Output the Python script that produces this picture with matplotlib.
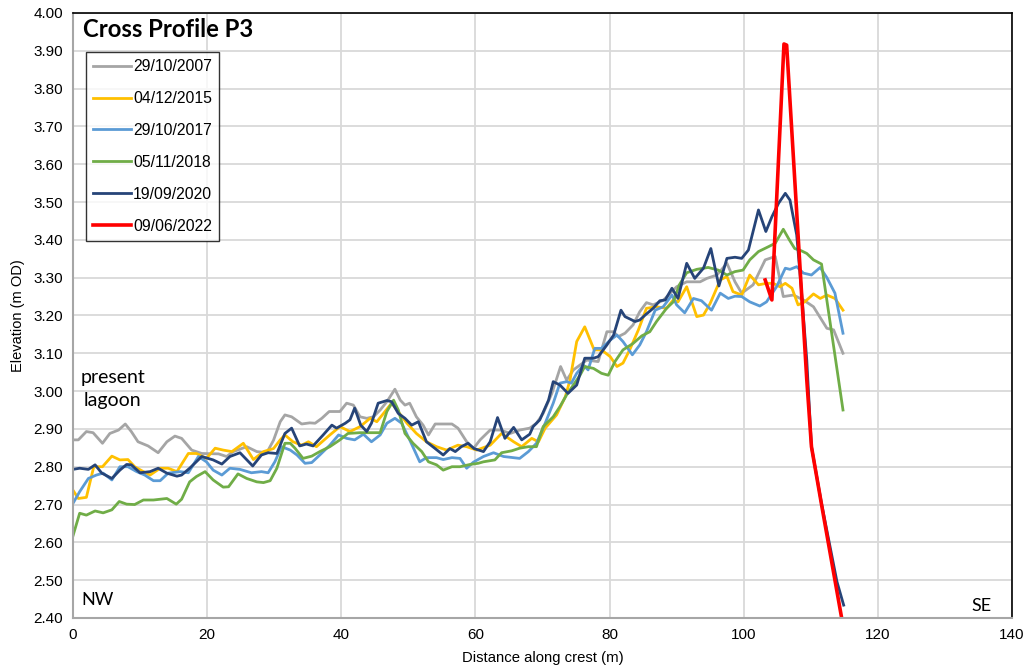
"""
Cross Profile P3 - beach crest elevation surveys.
"""

import matplotlib
matplotlib.use('Agg')
import matplotlib.pyplot as plt
from matplotlib.ticker import MultipleLocator, FormatStrFormatter

# survey dates / legend labels
labels = ['29/10/2007', '04/12/2015', '29/10/2017', '05/11/2018', '19/09/2020', '09/06/2022']
colors = ['#A5A5A5', '#FFC000', '#5B9BD5', '#70AD47', '#264478', '#FF0000']

# 29/10/2007
x_2007 = [0, 0.8, 2.0, 3.0, 4.4, 5.5, 6.8, 7.8, 8.7, 9.7,
          11.2, 12.7, 14.0, 15.2, 16.2, 17.7, 19.2, 21.7, 22.9, 23.9,
          25.9, 27.4, 28.9, 29.9, 30.9, 31.6, 32.6, 34.1, 35.3, 36.1,
          37.1, 38.2, 39.8, 40.8, 41.8, 42.8, 43.8, 44.8, 45.8, 46.8,
          48.0, 48.8, 49.5, 50.2, 51.2, 52.2, 53.0, 54.0, 56.5, 57.4,
          58.7, 59.7, 60.7, 62.2, 63.7, 65.2, 66.6, 68.1, 69.1, 70.1,
          71.4, 72.7, 73.6, 74.6, 76.6, 78.3, 79.6, 80.6, 81.3, 82.3,
          83.5, 84.5, 85.5, 86.5, 88.0, 90.0, 91.5, 93.5, 94.5, 96.0,
          97.5, 98.7, 99.7, 101.4, 103.2, 104.7, 105.9, 107.4, 108.9, 110.4,
          112.4, 113.4, 114.8]
y_2007 = [2.871, 2.871, 2.893, 2.890, 2.862, 2.888, 2.897, 2.913, 2.893, 2.866,
          2.855, 2.837, 2.866, 2.881, 2.875, 2.844, 2.835, 2.834, 2.827, 2.840,
          2.853, 2.840, 2.837, 2.870, 2.919, 2.937, 2.932, 2.913, 2.916, 2.915,
          2.928, 2.946, 2.946, 2.968, 2.963, 2.932, 2.928, 2.932, 2.950, 2.972,
          3.005, 2.976, 2.963, 2.968, 2.932, 2.910, 2.884, 2.913, 2.913, 2.902,
          2.866, 2.848, 2.871, 2.897, 2.897, 2.888, 2.897, 2.902, 2.915, 2.941,
          2.994, 3.065, 3.029, 3.056, 3.082, 3.078, 3.157, 3.157, 3.144, 3.153,
          3.175, 3.210, 3.234, 3.228, 3.240, 3.276, 3.289, 3.289, 3.298, 3.307,
          3.338, 3.289, 3.259, 3.281, 3.347, 3.356, 3.250, 3.254, 3.241, 3.223,
          3.166, 3.162, 3.100]

# 04/12/2015
x_2015 = [0, 0.8, 2.0, 3.1, 4.4, 5.8, 7.0, 8.2, 9.2, 10.5,
          11.5, 13.0, 14.2, 15.5, 17.2, 18.4, 19.9, 21.2, 22.4, 23.7,
          25.4, 26.9, 28.4, 29.9, 30.9, 31.6, 32.8, 34.1, 35.1, 36.3,
          38.3, 39.8, 41.3, 42.8, 44.3, 45.3, 46.3, 47.5, 48.3, 49.8,
          51.2, 52.7, 54.2, 55.7, 57.4, 58.7, 60.2, 62.2, 63.9, 65.7,
          66.9, 68.4, 69.4, 70.4, 72.1, 73.4, 74.1, 75.1, 76.3, 77.7,
          78.8, 80.1, 81.1, 82.0, 83.0, 84.3, 85.5, 87.0, 88.5, 89.5,
          90.2, 91.5, 93.0, 94.0, 95.0, 96.5, 97.5, 98.4, 99.7, 100.9,
          102.2, 103.4, 104.4, 105.4, 106.2, 107.2, 108.1, 109.1, 110.4, 111.4,
          112.4, 113.6, 114.8]
y_2015 = [2.738, 2.716, 2.719, 2.800, 2.800, 2.828, 2.818, 2.819, 2.800, 2.787,
          2.778, 2.796, 2.796, 2.787, 2.835, 2.835, 2.822, 2.849, 2.844, 2.840,
          2.862, 2.819, 2.840, 2.848, 2.871, 2.884, 2.866, 2.857, 2.866, 2.853,
          2.884, 2.906, 2.893, 2.906, 2.928, 2.919, 2.941, 2.968, 2.950, 2.915,
          2.888, 2.866, 2.853, 2.844, 2.857, 2.853, 2.844, 2.857, 2.888, 2.866,
          2.853, 2.875, 2.866, 2.902, 2.937, 2.985, 3.029, 3.131, 3.170, 3.109,
          3.109, 3.091, 3.065, 3.074, 3.109, 3.162, 3.219, 3.223, 3.219, 3.241,
          3.236, 3.276, 3.197, 3.201, 3.232, 3.294, 3.303, 3.263, 3.254, 3.307,
          3.281, 3.285, 3.285, 3.276, 3.285, 3.272, 3.228, 3.236, 3.257, 3.245,
          3.254, 3.245, 3.214]

# 29/10/2017
x_2017 = [0, 1.0, 2.3, 3.5, 4.5, 5.8, 7.0, 8.2, 9.5, 10.7,
          12.0, 13.0, 14.2, 16.0, 17.2, 18.7, 19.9, 20.9, 22.2, 23.4,
          24.9, 26.6, 28.1, 29.1, 30.1, 31.1, 32.4, 33.4, 34.6, 35.6,
          36.8, 38.3, 39.6, 40.8, 42.0, 43.3, 44.5, 45.8, 46.8, 48.0,
          49.0, 50.2, 51.7, 52.7, 54.2, 55.2, 56.5, 57.7, 58.7, 59.7,
          61.2, 62.7, 64.2, 66.6, 67.9, 69.1, 70.4, 71.6, 72.6, 73.6,
          74.3, 75.1, 76.1, 76.8, 77.8, 78.8, 80.1, 81.1, 82.0, 83.4,
          84.5, 85.5, 86.8, 88.0, 89.3, 90.0, 91.2, 92.5, 93.7, 95.2,
          96.5, 97.7, 98.7, 99.7, 100.9, 102.4, 103.4, 104.9, 106.2, 106.9,
          107.9, 108.9, 110.1, 111.4, 112.4, 113.6, 114.8]
y_2017 = [2.703, 2.734, 2.769, 2.778, 2.783, 2.765, 2.800, 2.800, 2.787, 2.778,
          2.763, 2.763, 2.783, 2.787, 2.784, 2.827, 2.813, 2.791, 2.778, 2.796,
          2.793, 2.784, 2.787, 2.784, 2.813, 2.853, 2.844, 2.831, 2.809, 2.811,
          2.831, 2.857, 2.884, 2.875, 2.871, 2.886, 2.866, 2.884, 2.915, 2.928,
          2.915, 2.871, 2.813, 2.824, 2.824, 2.819, 2.824, 2.822, 2.796, 2.812,
          2.827, 2.837, 2.827, 2.822, 2.840, 2.862, 2.915, 2.968, 3.021, 3.025,
          3.021, 3.047, 3.069, 3.056, 3.113, 3.113, 3.135, 3.148, 3.131, 3.096,
          3.122, 3.157, 3.214, 3.223, 3.254, 3.228, 3.207, 3.245, 3.239, 3.214,
          3.259, 3.245, 3.251, 3.250, 3.236, 3.225, 3.236, 3.276, 3.325, 3.322,
          3.329, 3.312, 3.307, 3.327, 3.300, 3.259, 3.153]

# 05/11/2018
x_2018 = [0, 1.0, 2.0, 3.3, 4.5, 5.8, 6.9, 8.0, 9.2, 10.5,
          12.0, 13.0, 14.0, 15.4, 16.2, 17.4, 18.4, 19.7, 20.9, 22.4,
          23.2, 24.6, 25.9, 27.4, 28.4, 29.4, 30.4, 31.6, 32.4, 33.1,
          34.3, 35.6, 36.8, 38.3, 39.8, 41.0, 42.8, 44.3, 45.8, 46.8,
          47.8, 48.5, 49.5, 50.7, 52.0, 53.0, 54.2, 55.2, 56.5, 57.7,
          59.2, 60.4, 61.2, 62.9, 63.9, 65.4, 66.6, 67.9, 69.1, 70.1,
          71.6, 72.6, 73.6, 74.6, 75.6, 76.3, 77.6, 78.8, 79.8, 80.8,
          82.0, 83.5, 84.8, 86.0, 87.0, 88.5, 89.5, 90.4, 91.5, 93.0,
          94.7, 96.2, 97.5, 98.7, 99.9, 100.9, 102.2, 103.7, 104.7, 105.9,
          106.8, 107.6, 108.6, 109.4, 110.4, 111.6, 114.8]
y_2018 = [2.617, 2.677, 2.672, 2.683, 2.678, 2.686, 2.708, 2.701, 2.700, 2.712,
          2.712, 2.714, 2.716, 2.701, 2.714, 2.760, 2.774, 2.787, 2.765, 2.746,
          2.747, 2.781, 2.769, 2.760, 2.758, 2.763, 2.796, 2.862, 2.862, 2.849,
          2.822, 2.828, 2.840, 2.853, 2.871, 2.888, 2.890, 2.890, 2.890, 2.946,
          2.976, 2.950, 2.888, 2.862, 2.840, 2.813, 2.805, 2.791, 2.800, 2.800,
          2.806, 2.809, 2.813, 2.818, 2.837, 2.842, 2.849, 2.853, 2.853, 2.906,
          2.932, 2.959, 2.990, 3.016, 3.042, 3.065, 3.060, 3.047, 3.042, 3.078,
          3.109, 3.126, 3.146, 3.157, 3.184, 3.219, 3.236, 3.281, 3.313, 3.322,
          3.327, 3.320, 3.307, 3.316, 3.320, 3.347, 3.369, 3.382, 3.391, 3.428,
          3.400, 3.377, 3.371, 3.364, 3.347, 3.336, 2.950]

# 19/09/2020
x_2020 = [0, 1.0, 2.3, 3.3, 4.3, 5.8, 7.0, 8.0, 8.7, 10.0,
          11.5, 12.7, 14.0, 15.5, 16.2, 17.4, 19.2, 20.9, 22.2, 23.4,
          24.9, 26.8, 28.1, 29.1, 30.4, 31.6, 32.6, 33.8, 34.8, 35.8,
          37.3, 38.6, 39.3, 40.6, 41.3, 42.0, 42.9, 43.8, 44.5, 45.5,
          46.8, 47.5, 48.5, 49.5, 50.5, 51.5, 52.7, 54.0, 55.2, 56.2,
          57.0, 57.9, 58.9, 59.8, 61.2, 62.2, 63.3, 64.4, 65.7, 66.9,
          68.1, 68.6, 69.6, 70.9, 71.6, 72.6, 73.8, 75.1, 76.3, 77.6,
          78.3, 79.6, 80.6, 81.7, 82.3, 83.8, 84.5, 85.3, 86.5, 87.5,
          88.3, 89.3, 90.2, 91.5, 92.7, 94.0, 95.1, 96.3, 97.5, 98.7,
          99.7, 100.7, 102.2, 103.3, 104.2, 105.2, 106.2, 106.9, 107.9, 108.6,
          109.4, 110.1, 111.6, 113.9, 114.9]
y_2020 = [2.793, 2.796, 2.793, 2.805, 2.783, 2.769, 2.791, 2.806, 2.805, 2.784,
          2.787, 2.796, 2.783, 2.775, 2.778, 2.796, 2.827, 2.818, 2.807, 2.827,
          2.837, 2.802, 2.831, 2.837, 2.835, 2.888, 2.902, 2.855, 2.860, 2.855,
          2.884, 2.910, 2.902, 2.915, 2.924, 2.955, 2.910, 2.893, 2.915, 2.968,
          2.975, 2.972, 2.941, 2.928, 2.910, 2.919, 2.866, 2.848, 2.831, 2.848,
          2.840, 2.853, 2.862, 2.848, 2.840, 2.866, 2.930, 2.875, 2.904, 2.871,
          2.886, 2.906, 2.924, 2.976, 3.025, 3.016, 2.994, 3.016, 3.087, 3.087,
          3.091, 3.122, 3.148, 3.214, 3.197, 3.184, 3.188, 3.201, 3.219, 3.239,
          3.241, 3.272, 3.245, 3.338, 3.298, 3.325, 3.377, 3.278, 3.351, 3.354,
          3.351, 3.373, 3.479, 3.422, 3.461, 3.497, 3.523, 3.505, 3.413, 3.267,
          3.082, 2.853, 2.703, 2.496, 2.434]

# 09/06/2022
x_2022 = [103.2, 104.2, 106.0, 106.4, 109.4, 110.1, 111.6, 114.9]
y_2022 = [3.294, 3.241, 3.918, 3.915, 3.030, 2.853, 2.700, 2.370]

series = [(x_2007, y_2007), (x_2015, y_2015), (x_2017, y_2017),
          (x_2018, y_2018), (x_2020, y_2020), (x_2022, y_2022)]
widths = [2.0, 2.0, 2.0, 2.0, 2.0, 2.6]

fig = plt.figure(figsize=(10.29, 6.72), dpi=100)
ax = fig.add_axes([0.0709, 0.0804, 0.9126, 0.9003])

for (xs, ys), lab, col, lw in zip(series, labels, colors, widths):
    ax.plot(xs, ys, color=col, linewidth=lw, label=lab, solid_joinstyle='round')

ax.set_xlim(0, 140)
ax.set_ylim(2.40, 4.00)
ax.xaxis.set_major_locator(MultipleLocator(20))
ax.yaxis.set_major_locator(MultipleLocator(0.1))
ax.yaxis.set_major_formatter(FormatStrFormatter('%.2f'))
ax.grid(True, color='#d9d9d9', linewidth=1.3)
ax.set_axisbelow(True)
ax.tick_params(length=0, labelsize=11, pad=7)
for t in ax.get_xticklabels() + ax.get_yticklabels():
    t.set_family('Liberation Sans')

for side in ['left', 'bottom']:
    ax.spines[side].set_color('#a6a6a6')
    ax.spines[side].set_linewidth(1.5)
for side in ['top', 'right']:
    ax.spines[side].set_color('#000000')
    ax.spines[side].set_linewidth(1.2)

ax.set_xlabel('Distance along crest (m)', fontsize=10.7, family='Liberation Sans', labelpad=7)
ax.set_ylabel('Elevation (m OD)', fontsize=10.5, family='Liberation Sans', labelpad=6)

ax.text(0.0106, 0.972, 'Cross Profile P3', transform=ax.transAxes, fontsize=17.2,
        fontweight='bold', family='Lato', va='center', ha='left')
ax.text(5.9, 3.006, 'present\nlagoon', fontsize=14, family='Lato',
        ha='center', va='center', linespacing=1.4)
ax.text(1.3, 2.447, 'NW', fontsize=13, family='Lato', va='center')
ax.text(134.0, 2.432, 'SE', fontsize=13, family='Lato', va='center')

leg = ax.legend(loc='upper left', bbox_to_anchor=(0.0138, 0.9355), borderaxespad=0,
                prop={'family': 'Liberation Sans', 'size': 11.3}, frameon=True,
                fancybox=False, edgecolor='black', labelspacing=1.08,
                handlelength=2.4, handletextpad=0.15, borderpad=0.45)
leg.get_frame().set_linewidth(1.0)

plt.savefig('out.png', dpi=100)
plt.close()
